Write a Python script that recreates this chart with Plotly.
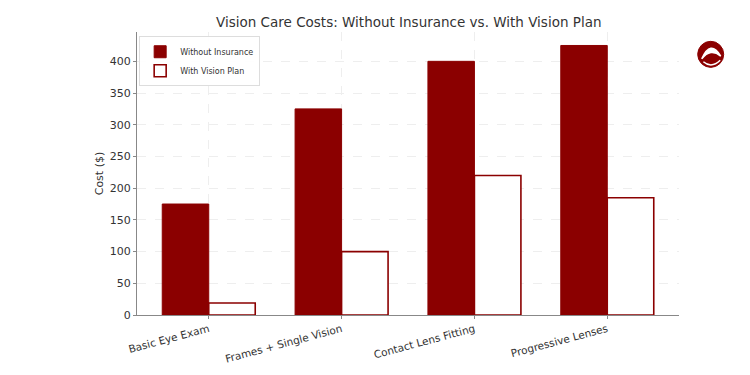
import plotly.graph_objects as go

categories = ["Basic Eye Exam", "Frames + Single Vision", "Contact Lens Fitting", "Progressive Lenses"]
without_insurance = [175, 325, 400, 425]
with_vision_plan = [19, 100, 220, 185]

dark_red = "#8B0000"
font_family = "DejaVu Sans, sans-serif"

fig = go.Figure()
fig.add_trace(go.Bar(
    x=categories, y=without_insurance, name="Without Insurance",
    marker=dict(color=dark_red, line=dict(color=dark_red, width=1)),
))
fig.add_trace(go.Bar(
    x=categories, y=with_vision_plan, name="With Vision Plan",
    marker=dict(color="white", line=dict(color=dark_red, width=1.6)),
))

fig.update_layout(
    width=750, height=375,
    barmode="group", bargap=0.3, bargroupgap=0,
    plot_bgcolor="white", paper_bgcolor="white",
    margin=dict(l=137, r=71, t=32, b=60),
    font=dict(family=font_family, color="#333", size=11),
    title=dict(text="Vision Care Costs: Without Insurance vs. With Vision Plan",
               x=0.545, xanchor="center", y=0.94, yanchor="middle",
               font=dict(size=13.5, color="#333", family=font_family)),
    legend=dict(x=0.004, y=0.985, xanchor="left", yanchor="top",
                bgcolor="rgba(255,255,255,0.9)", bordercolor="#ddd", borderwidth=1,
                font=dict(size=8, color="#333"), itemwidth=30, tracegroupgap=0),
    showlegend=True,
)
fig.update_xaxes(
    range=[-0.54, 3.54], automargin=False,
    showline=True, linecolor="#888", linewidth=1.2,
    showgrid=True, gridcolor="#eee", griddash="dash", gridwidth=0.8,
    tickangle=-15, ticks="outside", ticklen=3, tickcolor="#888",
    tickfont=dict(size=10.5, color="#333"),
)
fig.update_yaxes(
    range=[0, 446.25], automargin=False,
    showline=True, linecolor="#888", linewidth=1.2,
    showgrid=True, gridcolor="#eee", griddash="dash", gridwidth=0.8,
    tick0=0, dtick=50, ticks="outside", ticklen=3, tickcolor="#888",
    tickfont=dict(size=11, color="#333"),
    title=dict(text="Cost ($)", font=dict(size=11, color="#333"), standoff=3),
    zeroline=False,
)

# small logo-like mark at top-right
fig.add_shape(type="circle", xref="paper", yref="paper",
              x0=1.0345, x1=1.0825, y0=0.875, y1=0.967,
              line=dict(color=dark_red, width=1), fillcolor=dark_red)
fig.add_shape(type="path", xref="paper", yref="paper",
              path="M 1.042 0.905 Q 1.058 0.975 1.077 0.915 Q 1.058 0.945 1.042 0.905 Z",
              line=dict(color="white", width=1.5), fillcolor="white")
fig.add_shape(type="path", xref="paper", yref="paper",
              path="M 1.045 0.895 Q 1.06 0.87 1.076 0.9",
              line=dict(color="white", width=1.5))

fig.write_html("out.html", config={"displayModeBar": False},
               post_script="document.body.style.margin='0';document.body.style.overflow='hidden';")
